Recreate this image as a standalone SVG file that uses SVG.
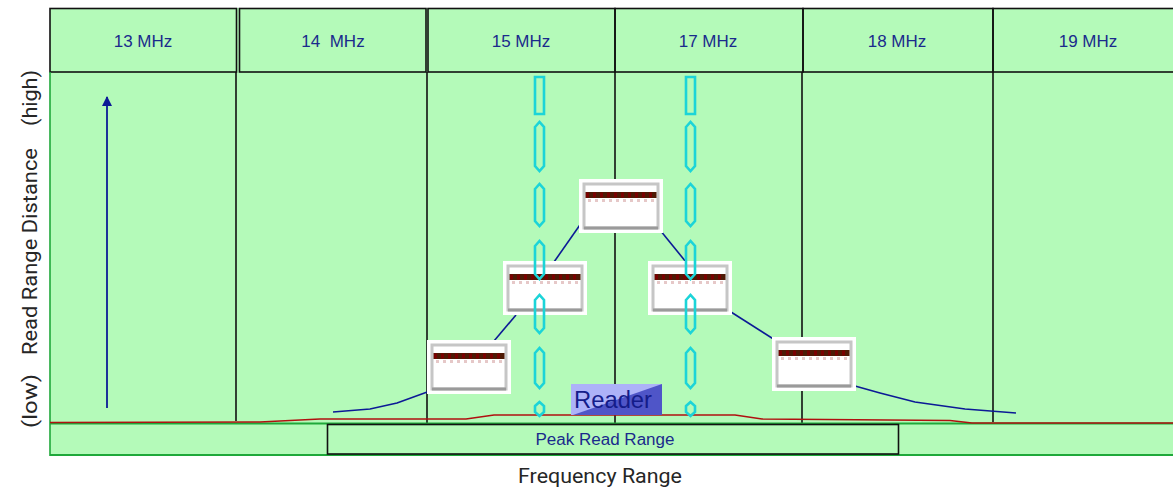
<svg xmlns="http://www.w3.org/2000/svg" xmlns:xlink="http://www.w3.org/1999/xlink" width="1173" height="489" viewBox="0 0 1173 489">
<style>
.hdr{font-family:"Liberation Sans",Arial,sans-serif;font-size:17px;fill:#1a2a8c;text-anchor:middle}
.grid{stroke:#111;stroke-width:1.6;fill:none}
.ax{font-family:Roboto,"Liberation Sans",sans-serif;font-size:20px;fill:#262626}
.cy{fill:none;stroke:#1cd4d8;stroke-width:2.6;stroke-linejoin:miter}
.blue{fill:none;stroke:#0c1a96;stroke-width:1.6}
</style>
<defs>
<g id="card">
<rect x="0" y="0" width="84" height="54" fill="#fff"/>
<rect x="5" y="5" width="74" height="44" fill="#fff" stroke="#c6c6c6" stroke-width="3"/>
<line x1="5" y1="49" x2="79" y2="49" stroke="#9a9a9a" stroke-width="3"/>
<rect x="6.5" y="13" width="71" height="6" fill="#4e1a05"/>
<line x1="7" y1="16" x2="77" y2="16" stroke="#7a0000" stroke-width="5" stroke-dasharray="3 4"/>
<line x1="9" y1="21.5" x2="77" y2="21.5" stroke="#e6c8c8" stroke-width="3" stroke-dasharray="3 4"/>
</g>
<marker id="ah" viewBox="0 0 10 10" refX="9" refY="5" markerWidth="10" markerHeight="10" markerUnits="userSpaceOnUse" orient="auto">
<path d="M0,0 L10,5 L0,10 Z" fill="#0c1a96"/>
</marker>
</defs>
<rect x="0" y="0" width="1173" height="489" fill="#fff"/>
<rect x="50" y="8" width="1123" height="448" fill="#b4fab9"/>
<g id="axis-labels">
<text class="ax" transform="translate(37,428) rotate(-90)" textLength="54" lengthAdjust="spacingAndGlyphs">(low)</text>
<text class="ax" transform="translate(37,355) rotate(-90)" textLength="207" lengthAdjust="spacingAndGlyphs">Read Range Distance</text>
<text class="ax" transform="translate(37,126) rotate(-90)" textLength="56" lengthAdjust="spacingAndGlyphs">(high)</text>
<text class="ax" x="518" y="483" textLength="164" lengthAdjust="spacingAndGlyphs">Frequency Range</text>
</g>
<g id="header">
<g id="h13"><rect class="grid" x="50" y="8.5" width="186.5" height="63.5"/><text class="hdr" x="143" y="47">13 MHz</text></g>
<g id="h14"><rect class="grid" x="239.5" y="8.5" width="186.5" height="63.5"/><text class="hdr" x="333" y="47" xml:space="preserve">14  MHz</text></g>
<g id="h15"><rect class="grid" x="428" y="8.5" width="187" height="63.5"/><text class="hdr" x="521" y="47">15 MHz</text></g>
<g id="h17"><rect class="grid" x="615" y="8.5" width="188" height="63.5"/><text class="hdr" x="708" y="47">17 MHz</text></g>
<g id="h18"><rect class="grid" x="803" y="8.5" width="190" height="63.5"/><text class="hdr" x="897" y="47">18 MHz</text></g>
<g id="h19"><rect class="grid" x="993" y="8.5" width="182" height="63.5"/><text class="hdr" x="1088" y="47">19 MHz</text></g>
</g>
<g id="body-grid">
<line x1="50" y1="72" x2="50" y2="456" stroke="#1fa83a" stroke-width="1.6"/>
<line class="grid" x1="236" y1="72" x2="236" y2="421"/>
<line class="grid" x1="427" y1="72" x2="427" y2="424"/>
<line class="grid" x1="615" y1="72" x2="615" y2="424"/>
<line class="grid" x1="802" y1="72" x2="802" y2="424"/>
<line class="grid" x1="993" y1="72" x2="993" y2="422"/>
<line x1="50" y1="423.5" x2="1173" y2="423.5" stroke="#1fa83a" stroke-width="2"/>
<line x1="50" y1="455" x2="1173" y2="455" stroke="#1fa83a" stroke-width="2"/>
</g>
<g id="connectors">
<polyline points="50,422.5 260,422 320,419 466,419 494,415 735,415 762,419 950,420.5 972,423 1173,423" fill="none" stroke="#b01010" stroke-width="1.6"/>
<line x1="107" y1="408" x2="107" y2="97" stroke="#0c1a96" stroke-width="1.8" marker-end="url(#ah)"/>
<polyline class="blue" points="333,412 370,409 397,403 430,391"/>
<line class="blue" x1="494" y1="341" x2="516" y2="315"/>
<line class="blue" x1="554" y1="262" x2="582" y2="222"/>
<line class="blue" x1="660" y1="230" x2="686" y2="262"/>
<line class="blue" x1="731" y1="312" x2="775" y2="340"/>
<polyline class="blue" points="855,386 880,393 915,402 965,409 1016,413"/>
</g>
<g id="cards">
<use id="card1" href="#card" xlink:href="#card" x="427" y="340"/>
<use id="card2" href="#card" xlink:href="#card" x="503" y="261"/>
<use id="card3" href="#card" xlink:href="#card" x="579" y="179"/>
<use id="card4" href="#card" xlink:href="#card" x="648" y="261"/>
<use id="card5" href="#card" xlink:href="#card" x="772" y="337"/>
</g>
<g id="signal-beams">
<path class="cy" d="M535,77 H544 V114 H535 Z"/>
<path class="cy" d="M535,127 L539.5,122 L544,127 V166 L539.5,171 L535,166 Z"/>
<path class="cy" d="M535,189 L539.5,184 L544,189 V221 L539.5,226 L535,221 Z"/>
<path class="cy" d="M535,246 L539.5,241 L544,246 V274 L539.5,279 L535,274 Z"/>
<path class="cy" d="M535,300 L539.5,295 L544,300 V328 L539.5,333 L535,328 Z"/>
<path class="cy" d="M535,353 L539.5,348 L544,353 V383 L539.5,388 L535,383 Z"/>
<path class="cy" d="M535,406 L539.5,402 L544,406 V412 L539.5,416 L535,412 Z"/>
<path class="cy" d="M686,77 H695 V114 H686 Z"/>
<path class="cy" d="M686,127 L690.5,122 L695,127 V166 L690.5,171 L686,166 Z"/>
<path class="cy" d="M686,189 L690.5,184 L695,189 V221 L690.5,226 L686,221 Z"/>
<path class="cy" d="M686,246 L690.5,241 L695,246 V274 L690.5,279 L686,274 Z"/>
<path class="cy" d="M686,300 L690.5,295 L695,300 V328 L690.5,333 L686,328 Z"/>
<path class="cy" d="M686,353 L690.5,348 L695,353 V383 L690.5,388 L686,383 Z"/>
<path class="cy" d="M686,406 L690.5,402 L695,406 V412 L690.5,416 L686,412 Z"/>
</g>
<g id="reader">
<rect x="571" y="384" width="91" height="31" fill="#adb2f8"/>
<path d="M573,415 L662,384 L662,415 Z" fill="#4f55c8"/>
<text x="574" y="408" font-family="'Liberation Sans',Arial,sans-serif" font-size="23" fill="#141c8a" textLength="78" lengthAdjust="spacingAndGlyphs">Reader</text>
</g>
<g id="peak-read-range">
<rect x="327.5" y="424.5" width="571" height="29.5" fill="none" stroke="#111" stroke-width="1.6"/>
<text x="605" y="445" font-family="'Liberation Sans',Arial,sans-serif" font-size="16" fill="#1a2a8c" text-anchor="middle" textLength="139" lengthAdjust="spacingAndGlyphs">Peak Read Range</text>
</g>
</svg>
